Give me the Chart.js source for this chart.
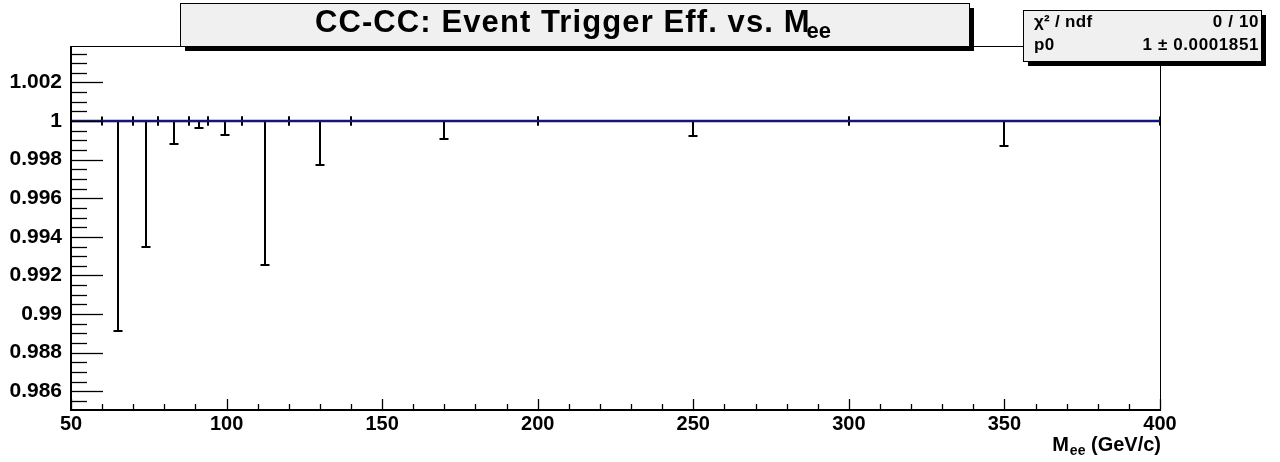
<!DOCTYPE html>
<html lang="en">
<head>
  <meta charset="UTF-8">
  <title>CC-CC: Event Trigger Eff. vs. Mee</title>
  <script src="https://cdn.jsdelivr.net/npm/chart.js"></script>
  <style>
    html, body { margin: 0; padding: 0; background: #ffffff; }
    #wrap { width: 1280px; height: 462px; }
  </style>
</head>
<body>
  <div id="wrap"><canvas id="eff" width="1280" height="462"></canvas></div>

  <script>
    // bins in M_ee (GeV/c) and trigger efficiency with asymmetric errors
    const binLow    = [60, 70, 78, 88, 94, 105, 120, 140, 200, 300];
    const binHigh   = [70, 78, 88, 94, 105, 120, 140, 200, 300, 400];
    const binCenter = [65, 74, 83, 91, 99.5, 112.5, 130, 170, 250, 350];
    const effValue  = [1, 1, 1, 1, 1, 1, 1, 1, 1, 1];
    const effErrLow = [0.0109, 0.00652, 0.00118, 0.00035, 0.00073, 0.00744, 0.00227, 0.00093, 0.00076, 0.0013];

    // pol0 fit
    const fitRange = [50, 400];
    const fitValue = 1;

    const xTicks = [50, 100, 150, 200, 250, 300, 350, 400];
    const xTickLabels = ['50', '100', '150', '200', '250', '300', '350', '400'];
    const yTicks = [0.986, 0.988, 0.990, 0.992, 0.994, 0.996, 0.998, 1.000, 1.002];
    const yTickLabels = ['0.986', '0.988', '0.99', '0.992', '0.994', '0.996', '0.998', '1', '1.002'];
    const xMinorStep = 10;
    const yMinorStep = 0.0005;

    const titleMain = 'CC-CC: Event Trigger Eff. vs. M';
    const titleSub = 'ee';
    const statLabels = ['\u03C7\u00B2 / ndf', 'p0'];
    const statValues = ['0 / 10', '1 \u00B1 0.0001851'];

    const FONT = '"Liberation Sans", Arial, Helvetica, sans-serif';

    function seg(ctx, x1, y1, x2, y2) {
      ctx.beginPath();
      ctx.moveTo(x1, y1);
      ctx.lineTo(x2, y2);
      ctx.stroke();
    }

    // draws text pieces (main + subscript) one after another
    function drawParts(ctx, parts, x, y, align) {
      let total = 0;
      parts.forEach(p => {
        ctx.font = 'bold ' + p.size + 'px ' + FONT;
        ctx.letterSpacing = (p.ls || 0) + 'px';
        p.w = ctx.measureText(p.t).width + (p.dx || 0);
        total += p.w;
      });
      let cx = align === 'right' ? x - total : align === 'center' ? x - total / 2 : x;
      ctx.textAlign = 'left';
      ctx.textBaseline = 'alphabetic';
      parts.forEach(p => {
        ctx.font = 'bold ' + p.size + 'px ' + FONT;
        ctx.letterSpacing = (p.ls || 0) + 'px';
        ctx.fillText(p.t, cx + (p.dx || 0), y + (p.dy || 0));
        cx += p.w;
      });
      ctx.letterSpacing = '0px';
    }

    function shadowBox(ctx, x1, y1, x2, y2, off) {
      ctx.fillStyle = '#000';
      ctx.fillRect(x1 + off, y1 + off, x2 - x1, y2 - y1);
      ctx.fillStyle = '#f0f0f0';
      ctx.fillRect(x1, y1, x2 - x1, y2 - y1);
      ctx.strokeStyle = '#000';
      ctx.lineWidth = 1;
      ctx.strokeRect(x1 + 0.5, y1 + 0.5, x2 - x1, y2 - y1);
    }

    const rootStyle = {
      id: 'rootStyle',
      beforeDatasetsDraw(chart) {
        const ctx = chart.ctx;
        const xs = chart.scales.x, ys = chart.scales.y;
        ctx.save();
        ctx.strokeStyle = '#000';
        ctx.lineWidth = 2;
        binCenter.forEach((c, i) => {
          const px = Math.round(xs.getPixelForValue(c));
          const py = ys.getPixelForValue(effValue[i]);
          const pl = Math.round(xs.getPixelForValue(binLow[i]));
          const ph = Math.round(xs.getPixelForValue(binHigh[i]));
          const pb = Math.round(ys.getPixelForValue(effValue[i] - effErrLow[i]));
          seg(ctx, pl, py, ph, py);
          seg(ctx, pl, py - 4.5, pl, py + 4.5);
          seg(ctx, ph, py - 4.5, ph, py + 4.5);
          seg(ctx, px, py, px, pb);
          seg(ctx, px - 4.5, pb, px + 4.5, pb);
        });
        ctx.restore();
      },
      afterDraw(chart) {
        const ctx = chart.ctx;
        const xs = chart.scales.x, ys = chart.scales.y;
        const a = chart.chartArea;
        ctx.save();

        // frame
        ctx.strokeStyle = '#000';
        ctx.lineWidth = 1;
        ctx.strokeRect(Math.round(a.left) + 0.5, Math.round(a.top) + 0.5,
                       Math.round(a.right - a.left), Math.round(a.bottom - a.top));
        ctx.lineWidth = 2;
        seg(ctx, a.left, a.bottom, a.right + 1, a.bottom);
        seg(ctx, a.left, a.top, a.left, a.bottom + 1);

        // inward ticks, y axis
        ctx.lineWidth = 1.3;
        for (let v = ys.min - (ys.min % yMinorStep); v <= ys.max; v += yMinorStep) {
          const py = Math.round(ys.getPixelForValue(v)) + 0.5;
          if (py < a.top || py > a.bottom) continue;
          const isMajor = yTicks.some(t => Math.abs(t - v) < 1e-7);
          seg(ctx, a.left, py, a.left + (isMajor ? 32 : 16), py);
        }
        // inward ticks, x axis
        for (let v = xs.min; v <= xs.max + 1e-6; v += xMinorStep) {
          const px = Math.round(xs.getPixelForValue(v)) + 0.5;
          const isMajor = xTicks.includes(v);
          seg(ctx, px, a.bottom, px, a.bottom - (isMajor ? 11 : 6));
        }

        // x axis title
        ctx.fillStyle = '#000';
        drawParts(ctx, [
          { t: 'M', size: 20 },
          { t: 'ee', size: 14, dy: 4, dx: 1 },
          { t: ' (GeV/c)', size: 20 }
        ], a.right + 1, 451, 'right');

        // title box
        shadowBox(ctx, 180, 3, 969, 46, 5);
        ctx.fillStyle = '#000';
        drawParts(ctx, [
          { t: titleMain, size: 31, ls: 1.1 },
          { t: titleSub, size: 22, dy: 6, dx: -4 }
        ], 573, 32, 'center');

        // stats box
        shadowBox(ctx, 1023, 10, 1261, 61, 5);
        ctx.fillStyle = '#000';
        statLabels.forEach((s, i) => {
          drawParts(ctx, [{ t: s, size: 17, ls: 0.3 }], 1034, 27 + i * 23, 'left');
          drawParts(ctx, [{ t: statValues[i], size: 17, ls: 0.6 }], 1259, 27 + i * 23, 'right');
        });
        ctx.restore();
      }
    };

    new Chart(document.getElementById('eff'), {
      type: 'scatter',
      data: {
        datasets: [
          {
            type: 'line',
            label: 'fit',
            data: fitRange.map(x => ({ x: x, y: fitValue })),
            borderColor: '#16167a',
            borderWidth: 2.5,
            pointRadius: 0,
            order: 0
          },
          {
            label: 'efficiency',
            data: binCenter.map((x, i) => ({ x: x, y: effValue[i] })),
            pointRadius: 0,
            order: 1
          }
        ]
      },
      options: {
        responsive: false,
        animation: false,
        devicePixelRatio: 1,
        layout: { padding: { top: 46, right: 120, left: 0, bottom: 0 } },
        plugins: { legend: { display: false }, tooltip: { enabled: false } },
        scales: {
          x: {
            type: 'linear',
            min: 50,
            max: 400,
            grid: { display: false, drawTicks: false },
            border: { display: false },
            afterBuildTicks: s => { s.ticks = xTicks.map(v => ({ value: v })); },
            afterFit: s => { s.height = 52; },
            ticks: {
              color: '#000',
              font: { family: FONT, size: 20, weight: 'bold' },
              padding: 2,
              maxRotation: 0,
              autoSkip: false,
              callback: (v, i) => xTickLabels[i]
            }
          },
          y: {
            type: 'linear',
            min: 0.98503,
            max: 1.00389,
            grid: { display: false, drawTicks: false },
            border: { display: false },
            afterBuildTicks: s => { s.ticks = yTicks.map(v => ({ value: v })); },
            afterFit: s => { s.width = 71; },
            ticks: {
              color: '#000',
              font: { family: FONT, size: 21, weight: 'bold' },
              padding: 9,
              autoSkip: false,
              callback: (v, i) => yTickLabels[i]
            }
          }
        }
      },
      plugins: [rootStyle]
    });
  </script>
</body>
</html>
